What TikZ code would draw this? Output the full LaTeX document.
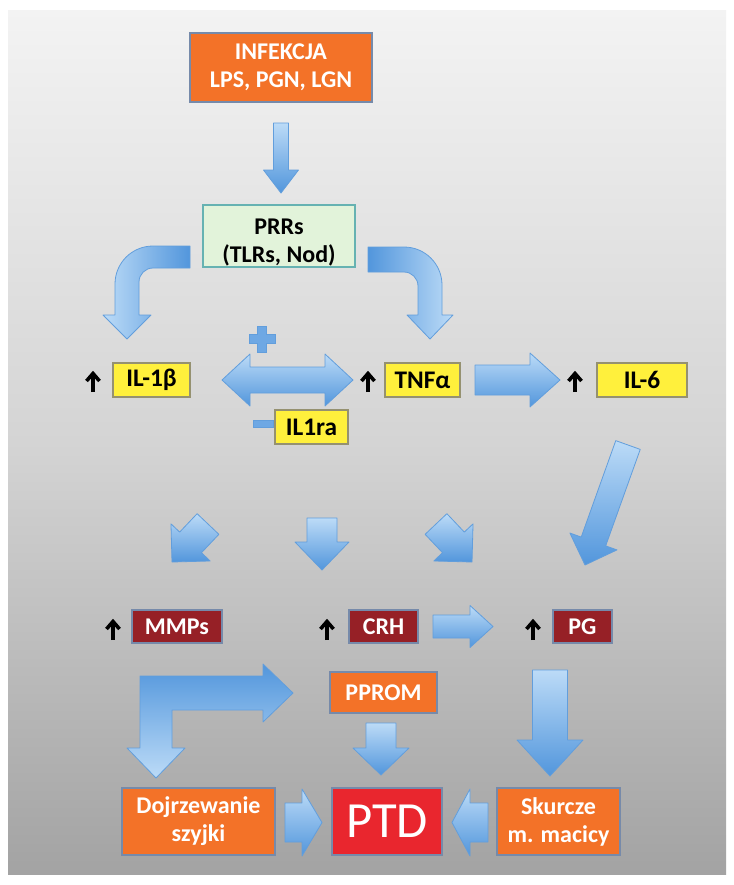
\documentclass[tikz,border=0pt]{standalone}
\usepackage{fontspec}
\setmainfont{Carlito}
\usetikzlibrary{calc,shadows}
\definecolor{bgtop}{RGB}{243,243,243}
\definecolor{bgmid}{RGB}{212,212,212}
\definecolor{bgbot}{RGB}{163,163,163}
\definecolor{orangebox}{RGB}{243,114,40}
\definecolor{redbox}{RGB}{233,38,46}
\definecolor{darkred}{RGB}{150,32,38}
\definecolor{yellowbox}{RGB}{255,240,60}
\definecolor{greenbox}{RGB}{226,243,218}
\definecolor{arrowlight}{RGB}{188,219,247}
\definecolor{arrowdark}{RGB}{82,150,220}
\definecolor{arrowedge}{RGB}{98,158,220}
\definecolor{boxedge}{RGB}{118,138,170}
\definecolor{symblue}{RGB}{110,168,228}
\tikzset{
  box/.style={draw=boxedge, line width=0.9pt, inner sep=0pt, align=center,
    font=\bfseries\fontsize{18}{21}\selectfont,
    drop shadow={shadow xshift=0.9pt, shadow yshift=-0.9pt, opacity=0.35}},
  obox/.style={box, fill=orangebox, text=white},
  ybox/.style={box, fill=yellowbox, text=black, draw=gray!70!yellow!80!black,
    font=\bfseries\fontsize{19}{21}\selectfont},
  rbox/.style={box, fill=darkred, text=white},
  gbox/.style={box, fill=greenbox, draw=teal!60, text=black},
  upsym/.style={line width=2.7pt, draw=black},
  blk/.style={draw=arrowedge, line width=0.6pt, top color=arrowlight, bottom color=arrowdark, line join=round},
}
\newcommand\blkarrow[6][]{%
  \pgfmathsetlengthmacro\bkS{#4*0.375pt}%
  \pgfmathsetlengthmacro\bkH{#5*0.375pt}%
  \pgfmathsetlengthmacro\bkL{#6*0.75pt}%
  \coordinate (bkB) at ($(#3)!\bkL!(#2)$);%
  \path[blk,#1] ($(#2)!\bkS!90:(#3)$) -- ($(bkB)!\bkS!-90:(#2)$) -- ($(bkB)!\bkH!-90:(#2)$) -- (#3)
     -- ($(bkB)!\bkH!90:(#2)$) -- ($(bkB)!\bkS!90:(#2)$) -- ($(#2)!\bkS!-90:(#3)$) -- cycle;%
}
\newcommand\upmark[2]{%
  \coordinate (#1) at (#2);%
  \draw[upsym, line cap=butt] ($(#1)+(0,11)$) -- ($(#1)+(0,-6)$);%
  \draw[upsym, line join=miter] ($(#1)+(-6.5,0)$) -- ($(#1)+(0,-7.5)$) -- ($(#1)+(6.5,0)$);%
}
\begin{document}
\begin{tikzpicture}[x=0.75pt,y=-0.75pt]
\useasboundingbox (0,0) rectangle (734,885);
\fill[white] (0,0) rectangle (734,885);
\shade[top color=bgtop, bottom color=bgbot, middle color=bgmid] (8,10) rectangle (726,874);

% boxes
\node[obox, minimum width=136.5pt, minimum height=51.75pt] (inf) at (281,67.5) {INFEKCJA\\LPS, PGN, LGN};
\node[gbox, minimum width=114pt, minimum height=46.5pt] (prr) at (279,236) {\rule{0pt}{22pt}PRRs\\(TLRs, Nod)};
\node[ybox, minimum width=57.75pt, minimum height=25.5pt] (il1b) at (151.5,380) {IL-1β};
\node[ybox, minimum width=56.25pt, minimum height=25.5pt] (tnf) at (422.5,380) {TNFα};
\node[ybox, minimum width=67.5pt, minimum height=25.5pt] (il6) at (642,380) {IL-6};
\node[ybox, minimum width=54.75pt, minimum height=25.5pt] (il1ra) at (311.5,427) {IL1ra};
\node[rbox, minimum width=67.5pt, minimum height=24.75pt] (mmp) at (177,626.5) {MMPs};
\node[rbox, minimum width=51.75pt, minimum height=24.75pt] (crh) at (383.5,626.5) {CRH};
\node[rbox, minimum width=44.25pt, minimum height=24.75pt] (pg) at (582.5,626.5) {PG};
\node[obox, minimum width=80.25pt, minimum height=30.75pt] (pprom) at (383.5,692.5) {PPROM};
\node[obox, minimum width=114.75pt, minimum height=50.25pt] (dojr) at (198.5,821.5) {Dojrzewanie\\szyjki};
\node[box, fill=redbox, text=white, font=\fontsize{38}{40}\selectfont, minimum width=82.5pt, minimum height=50.25pt] (ptd) at (387,821.5) {PTD};
\node[obox, minimum width=92.25pt, minimum height=50.25pt] (skur) at (558.5,821.5) {Skurcze\\m. macicy};

% up arrows (increase marks)
\upmark{u1}{93,381}
\upmark{u2}{368,381}
\upmark{u3}{575,381}
\upmark{u4}{113,629}
\upmark{u5}{327,629}
\upmark{u6}{533,629}

% arrow end coordinates
\coordinate (a1t) at (281,123);   \coordinate (a1h) at (281,193);
\coordinate (a2t) at (475,380);   \coordinate (a2h) at (560,380);
\coordinate (a3t) at (208,524);   \coordinate (a3h) at (172,562);
\coordinate (a4t) at (322,518);   \coordinate (a4h) at (322,570);
\coordinate (a5t) at (436,524);   \coordinate (a5h) at (472,562);
\coordinate (a6t) at (628,445);   \coordinate (a6h) at (585,565);
\coordinate (a7t) at (433,626.5); \coordinate (a7h) at (493,626.5);
\coordinate (a8t) at (381,723);   \coordinate (a8h) at (381,775);
\coordinate (a9t) at (550,670);   \coordinate (a9h) at (550,776);
\coordinate (a10t) at (285,822.5); \coordinate (a10h) at (322,822.5);
\coordinate (a11t) at (488,822.5); \coordinate (a11h) at (452,822.5);

\blkarrow{a1t}{a1h}{15}{35}{23}
\blkarrow{a2t}{a2h}{30}{54}{30}
\blkarrow{a3t}{a3h}{30}{54}{27}
\blkarrow{a4t}{a4h}{30}{54}{28}
\blkarrow{a5t}{a5h}{30}{54}{27}
\blkarrow{a6t}{a6h}{26}{50}{25}
\blkarrow{a7t}{a7h}{23}{42}{23}
\blkarrow{a8t}{a8h}{30}{56}{27}
\blkarrow{a9t}{a9h}{35}{66}{36}
\blkarrow{a10t}{a10h}{39}{67}{20}
\blkarrow{a11t}{a11h}{39}{67}{18}

% double arrow IL-1b <-> TNFa
\path[blk] (222,380) -- (250,354) -- (250,367) -- (325,367) -- (325,354) -- (353,380)
  -- (325,406) -- (325,393) -- (250,393) -- (250,406) -- cycle;

% left curved arrow
\path[blk, left color=arrowlight, right color=arrowdark]
  (190,246) -- (153,246) .. controls (132,246) and (115,263) .. (115,284)
  -- (115,315) -- (103,315) -- (127,339) -- (151,315) -- (139,315) -- (139,282)
  .. controls (139,274.3) and (145.3,268) .. (153,268) -- (190,268) -- cycle;

% right curved arrow
\path[blk, left color=arrowdark, right color=arrowlight]
  (368,247) -- (404,247) .. controls (425,247) and (442,264) .. (442,285)
  -- (442,315) -- (453,315) -- (430,339) -- (407,315) -- (418,315) -- (418,286)
  .. controls (418,278.3) and (411.7,272) .. (404,272) -- (368,272) -- cycle;

% L-shaped arrow
\path[blk, top color=arrowdark, bottom color=arrowlight]
  (140,676) -- (263,676) -- (263,664) -- (293,693) -- (263,722) -- (263,710)
  -- (172,710) -- (172,748) -- (185,748) -- (156,778) -- (127,748) -- (140,748) -- cycle;

% plus and minus signs
\path[fill=symblue, draw=arrowedge, line width=0.4pt]
  (257.5,326) -- (266.5,326) -- (266.5,334.5) -- (275,334.5) -- (275,343.5) -- (266.5,343.5)
  -- (266.5,352) -- (257.5,352) -- (257.5,343.5) -- (249,343.5) -- (249,334.5) -- (257.5,334.5) -- cycle;
\path[fill=symblue, draw=arrowedge, line width=0.4pt] (253,420) rectangle (273,427);
\end{tikzpicture}
\end{document}
